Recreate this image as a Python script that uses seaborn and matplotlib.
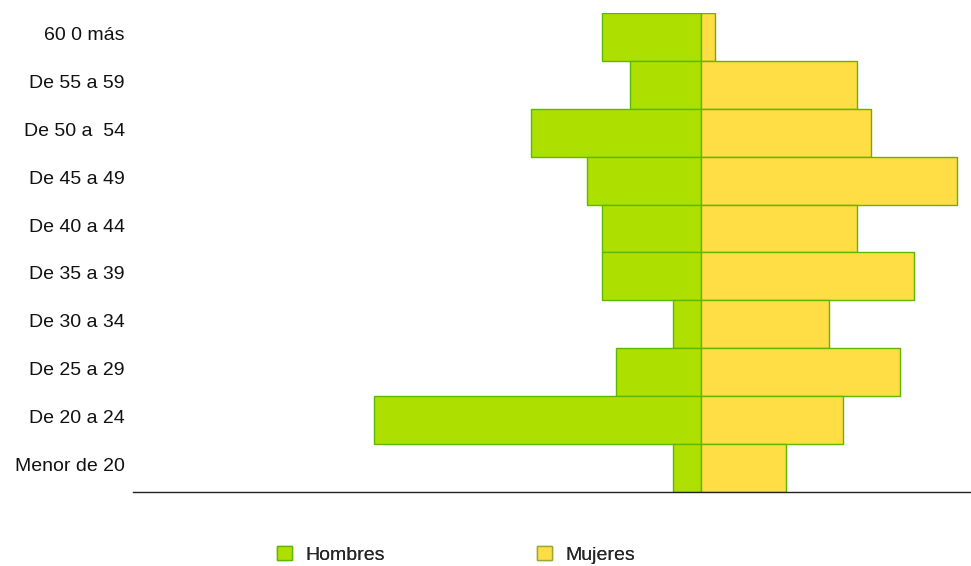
import pandas as pd
import numpy as np
import seaborn as sns
import matplotlib.pyplot as plt
import matplotlib.transforms as mtransforms
from matplotlib.patches import Patch

# datos (de arriba hacia abajo)
edades = ["60 0 más", "De 55 a 59", "De 50 a  54", "De 45 a 49", "De 40 a 44",
          "De 35 a 39", "De 30 a 34", "De 25 a 29", "De 20 a 24", "Menor de 20"]
hombres = [7, 5, 12, 8, 7, 7, 2, 6, 23, 2]
mujeres = [1, 11, 12, 18, 11, 15, 9, 14, 10, 6]

VERDE = "#ade000"
AMARILLO = "#ffdd44"
BORDE = "#5cb800"

df = pd.concat([
    pd.DataFrame({"edad": edades, "valor": [-v for v in hombres], "sexo": "Hombres"}),
    pd.DataFrame({"edad": edades, "valor": mujeres, "sexo": "Mujeres"}),
])

sns.set_style("white")
plt.rcParams["font.family"] = ["Liberation Sans", "DejaVu Sans"]

fig = plt.figure(figsize=(9.71, 5.66), dpi=100)
ax = fig.add_axes([133 / 971, (566 - 492) / 566, (970 - 133) / 971, (492 - 13) / 566])

sns.barplot(data=df, y="edad", x="valor", hue="sexo", order=edades,
            palette={"Hombres": VERDE, "Mujeres": AMARILLO}, saturation=1,
            dodge=False, width=1.0, edgecolor=BORDE, linewidth=1.0,
            legend=False, ax=ax)

ax.set_xlim(-40, 18.95)
ax.set_ylim(len(edades) - 0.5, -0.5)
ax.set_xlabel("")
ax.set_ylabel("")
ax.set_xticks([])
ax.tick_params(axis="y", length=0, pad=6, labelsize=14, labelcolor="#111111")
# etiquetas un poco más arriba del centro de la barra
desplaz = mtransforms.ScaledTranslation(0, 3.5 / 100, fig.dpi_scale_trans)
for lbl in ax.get_yticklabels():
    lbl.set_transform(lbl.get_transform() + desplaz)
for s in ["top", "right", "left"]:
    ax.spines[s].set_visible(False)
ax.spines["bottom"].set_color("#222222")
ax.spines["bottom"].set_linewidth(1.0)

# leyenda (dos entradas separadas)
for x0, color, borde, nombre in [(277, VERDE, BORDE, "Hombres"),
                                  (537, AMARILLO, "#99aa33", "Mujeres")]:
    leg = fig.legend(handles=[Patch(facecolor=color, edgecolor=borde, label=nombre)],
                     loc="lower left", bbox_to_anchor=(x0 / 971, 2 / 566),
                     frameon=False, fontsize=14, handlelength=0.75, handleheight=0.75,
                     handletextpad=0.7, borderpad=0, borderaxespad=0)
    fig.add_artist(leg)

fig.savefig("out.png", dpi=100)
